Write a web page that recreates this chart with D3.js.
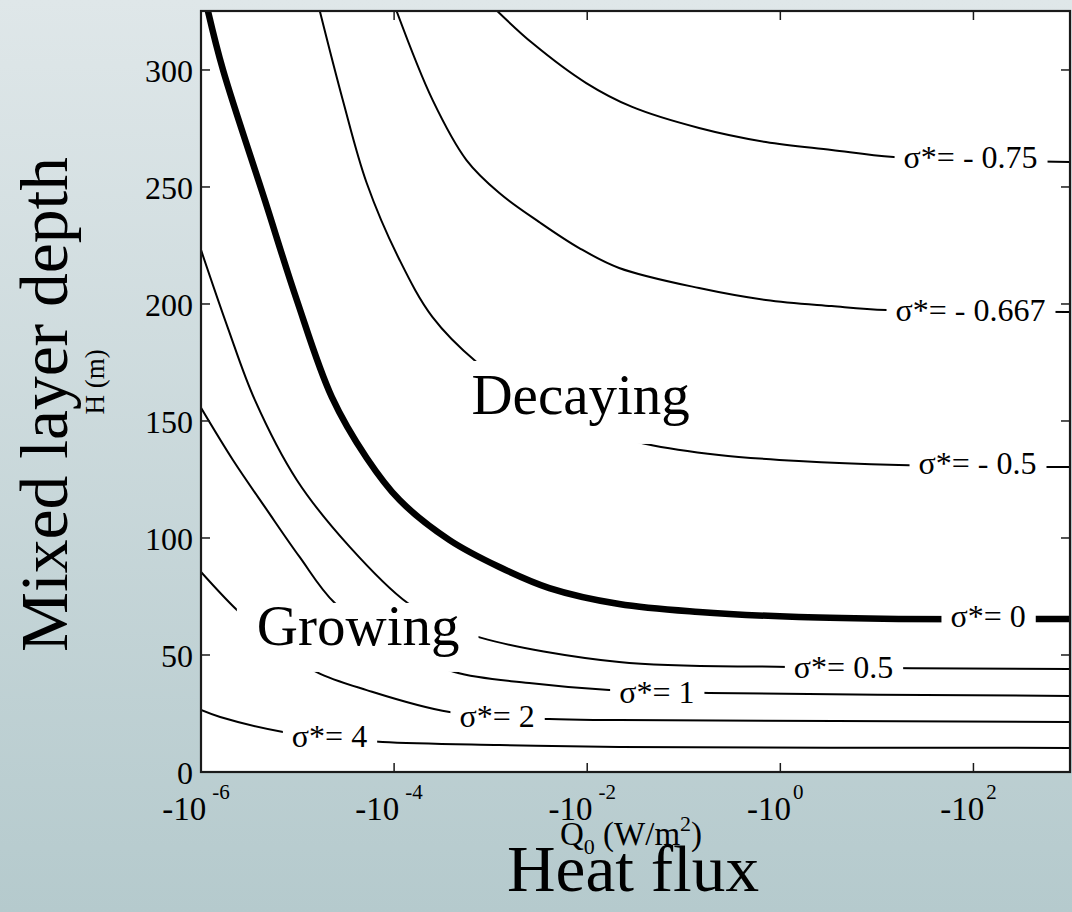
<!DOCTYPE html>
<html><head><meta charset="utf-8">
<script src="https://cdn.jsdelivr.net/npm/d3@7"></script>
<style>
html,body{margin:0;padding:0;overflow:hidden;background:#fff}
svg{display:block}
text{font-family:"Liberation Serif","Times New Roman",serif;fill:#000}
</style>
</head><body>
<svg id="chart" width="1072" height="912"></svg>
<script>
// ---------- data ----------
const xTickExponents = [-6, -4, -2, 0, 2];          // tick labels -10^n
const yTicks = [0, 50, 100, 150, 200, 250, 300];
const sigmaValues = [4, 2, 1, 0.5, 0, -0.5, -0.667, -0.75];
const sigmaLabels = ["4", "2", "1", "0.5", "0", "- 0.5", "- 0.667", "- 0.75"];

// each curve: [ |Q0| (W/m^2), H (m) ]
const curveS4 = [[1e-6,26.5],[1.58e-6,23.5],[7.08e-6,17.1],[2.15e-5,14.7],[7.59e-5,12.8],[1.23e-3,11.5],[2.14e-2,10.7],[1000,10.3]];
const curveS2 = [[1e-6,85.5],[2.36e-6,69.2],[6.11e-6,54.3],[1.58e-5,42.7],[5.20e-5,35.0],[3.75e-4,25.6],[4.05e-3,22.6],[2.14e-2,22.2],[1000,21.4]];
const curveS1 = [[1e-6,155.6],[2.14e-6,133.3],[4.81e-6,112.0],[1.05e-5,91.9],[2.43e-5,72.2],[1.01e-4,54.3],[4.22e-4,42.7],[2.51e-3,38.0],[1.69e-2,35.0],[0.182,33.8],[1000,32.5]];
const curveS05 = [[1e-6,223.1],[1.90e-6,189.7],[3.61e-6,159.0],[9.82e-6,124.8],[3.47e-5,96.2],[1.38e-4,72.2],[3.33e-4,63.7],[8.02e-4,57.3],[2.14e-2,47.0],[1.22,44.9],[1000,44.0]];
const curveS0 = [[1.18e-6,325.2],[1.69e-6,300],[4.58e-6,244.4],[9.82e-6,201.7],[2.26e-5,160.3],[5.20e-5,134.2],[1.14e-4,116.2],[3.75e-4,99.1],[1.23e-3,87.6],[4.05e-3,78.6],[2.14e-2,71.8],[0.144,68.4],[1.55,66.2],[16.8,65.4],[1000,65.4]];
const curveSm05 = [[1.70e-5,325.2],[2.94e-5,287.2],[5.20e-5,251.7],[1.14e-4,218.8],[2.50e-4,194.4],[7.13e-4,175.2],[5.14e-3,150.4],[4.07e-2,140.2],[0.231,135.5],[1.55,132.9],[16.8,131.2],[1000,130.3]];
const curveSm0667 = [[1.06e-4,325.2],[2.50e-4,287.2],[5.61e-4,261.5],[1.23e-3,247.4],[3.19e-3,235.0],[8.26e-3,223.9],[2.14e-2,215.4],[0.144,206.8],[0.708,201.7],[3.40,199.1],[12.6,197.4],[1000,196.6]];
const curveSm075 = [[1.17e-3,325.2],[2.70e-3,311.5],[9.77e-3,294.4],[2.92e-2,284.2],[0.144,275.2],[0.708,269.2],[3.40,265.8],[14.9,262.8],[1000,260.7]];
const curves = [curveS4, curveS2, curveS1, curveS05, curveS0, curveSm05, curveSm0667, curveSm075];

// ---------- layout ----------
const svg = d3.select("#chart");
const L = 201, R = 1070, T = 11, B = 772;
const x = d3.scaleLog().domain([1e-6, 1e3]).range([L, R]);
const y = d3.scaleLinear().domain([0, 325.2]).range([B, T]);

const defs = svg.append("defs");
const grad = defs.append("linearGradient").attr("id", "bg").attr("x1", 0).attr("y1", 0).attr("x2", 0).attr("y2", 1);
grad.append("stop").attr("offset", "0%").attr("stop-color", "#dfe7e9");
grad.append("stop").attr("offset", "100%").attr("stop-color", "#b5cacd");
defs.append("clipPath").attr("id", "plotclip").append("rect")
  .attr("x", L).attr("y", T).attr("width", R - L).attr("height", B - T);

svg.append("rect").attr("width", 1072).attr("height", 912).attr("fill", "url(#bg)");
svg.append("rect").attr("x", L).attr("y", T).attr("width", R - L).attr("height", B - T).attr("fill", "#fff");

// ---------- contour lines ----------
const line = d3.line().x(d => x(d[0])).y(d => y(d[1])).curve(d3.curveCatmullRom.alpha(0.5));
const gLines = svg.append("g").attr("clip-path", "url(#plotclip)");
curves.forEach((c, i) => {
  gLines.append("path").attr("d", line(c)).attr("fill", "none").attr("stroke", "#000")
    .attr("stroke-width", sigmaValues[i] === 0 ? 6.5 : 2).attr("stroke-linejoin", "round");
});

// ---------- label backgrounds and labels ----------
const labelPlacement = [[8.73e-6,10.7],[4.75e-4,19.2],[2.14e-2,29.5],[1.38,40.2],[57.8,62.0],[27.0,127.4],[15.6,192.7],[18.9,258.1]];
const gBg = svg.append("g");
const gText = svg.append("g");

sigmaLabels.forEach((lab, i) => {
  const px = x(labelPlacement[i][0]), py = y(labelPlacement[i][1]);
  const t = gText.append("text").attr("x", px).attr("y", py).attr("font-size", 32)
    .text("σ*= " + lab);
  const bb = t.node().getBBox();
  gBg.append("rect").attr("x", bb.x - 9).attr("y", bb.y + 6)
    .attr("width", bb.width + 19).attr("height", bb.height - 6).attr("fill", "#fff");
});

// region names
const gx = x(3.79e-6), gy = y(54.3);
const grow = gText.append("text").attr("x", gx).attr("y", gy).attr("font-size", 57).text("Growing");
const gbb = grow.node().getBBox();
gBg.append("rect").attr("x", gx - 20).attr("y", gy - 42).attr("width", gbb.width + 39).attr("height", 69).attr("fill", "#fff");

const dx0 = x(6.32e-4), dy0 = y(153);
const dec = gText.append("text").attr("x", dx0).attr("y", dy0).attr("font-size", 57).text("Decaying");
const dbb = dec.node().getBBox();
gBg.append("rect").attr("x", dx0 - 10).attr("y", dy0 - 53).attr("width", dbb.width + 18).attr("height", 83).attr("fill", "#fff");

// ---------- frame and ticks ----------
const gAx = svg.append("g");
const tickLen = 9;
yTicks.forEach(v => {
  gAx.append("line").attr("x1", L).attr("x2", L + tickLen).attr("y1", y(v)).attr("y2", y(v));
  gAx.append("line").attr("x1", R).attr("x2", R - tickLen).attr("y1", y(v)).attr("y2", y(v));
});
xTickExponents.forEach(e => {
  const xv = x(Math.pow(10, e));
  gAx.append("line").attr("x1", xv).attr("x2", xv).attr("y1", B).attr("y2", B - tickLen);
  gAx.append("line").attr("x1", xv).attr("x2", xv).attr("y1", T).attr("y2", T + tickLen);
});
gAx.selectAll("line").attr("stroke", "#1a1a1a").attr("stroke-width", 1.5);
gAx.append("rect").attr("x", L).attr("y", T).attr("width", R - L).attr("height", B - T)
  .attr("fill", "none").attr("stroke", "#1a1a1a").attr("stroke-width", 2.2);

// ---------- tick labels ----------
const gTick = svg.append("g");
yTicks.forEach(v => {
  gTick.append("text").attr("x", 193).attr("y", y(v) + 12).attr("text-anchor", "end")
    .attr("font-size", 32).text(v);
});
xTickExponents.forEach(e => {
  const xv = x(Math.pow(10, e));
  const t = gTick.append("text").attr("x", xv - 5).attr("y", 820).attr("text-anchor", "middle").attr("font-size", 33);
  t.append("tspan").text("-10");
  t.append("tspan").attr("dy", -21).attr("dx", e < 0 ? 6 : 2).attr("font-size", 21).text(String(e));
});

// ---------- axis titles ----------
const q = svg.append("text").attr("x", 560).attr("y", 845).attr("font-size", 33);
q.append("tspan").text("Q");
q.append("tspan").attr("dy", 9).attr("font-size", 22).text("0");
q.append("tspan").attr("dy", -9).text(" (W/m");
q.append("tspan").attr("dy", -14).attr("font-size", 22).text("2");
q.append("tspan").attr("dy", 14).text(")");

svg.append("text").attr("x", 507).attr("y", 891).attr("font-size", 66)
  .attr("textLength", 252).attr("lengthAdjust", "spacingAndGlyphs").text("Heat flux");

svg.append("text").attr("transform", "translate(67,404.5) rotate(-90)").attr("text-anchor", "middle")
  .attr("font-size", 67).attr("textLength", 495).attr("lengthAdjust", "spacingAndGlyphs").text("Mixed layer depth");

svg.append("text").attr("transform", "translate(104,382) rotate(-90)").attr("text-anchor", "middle")
  .attr("font-size", 27).text("H (m)");
</script>
</body></html>
